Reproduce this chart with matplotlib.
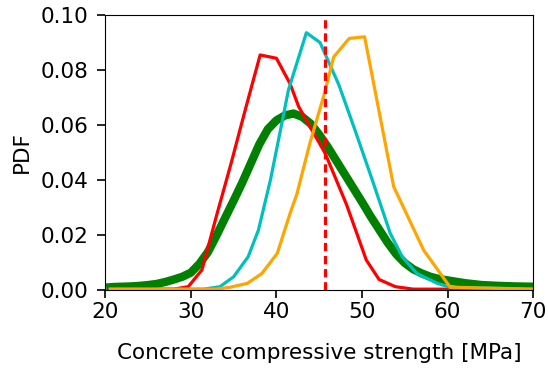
import matplotlib
matplotlib.use("Agg")
import matplotlib.pyplot as plt

# thick green reference pdf
green_x = [20.6, 21, 22, 23, 24, 25, 26, 27, 28, 29, 30, 31, 32, 33, 34, 35,
           36, 37, 38, 39, 40, 41, 42, 43, 44, 45, 46, 47, 48, 49, 50, 51,
           52, 53, 54, 55, 56, 57, 58, 59, 60, 62, 64, 66, 68, 70]
green_y = [0.0010, 0.0011, 0.0012, 0.0013, 0.0015, 0.0018, 0.0022, 0.0029,
           0.0038, 0.0048, 0.0063, 0.0095, 0.0138, 0.0198, 0.0262, 0.0325,
           0.0390, 0.0460, 0.0530, 0.0585, 0.0617, 0.0635, 0.0642, 0.0630,
           0.0605, 0.0565, 0.0520, 0.0470, 0.0420, 0.0370, 0.0320, 0.0268,
           0.0220, 0.0172, 0.0130, 0.0098, 0.0075, 0.0060, 0.0048, 0.0040,
           0.0035, 0.0025, 0.0018, 0.0015, 0.0013, 0.0012]

red_x = [20.6, 28.0, 29.7, 31.3, 33.0, 34.7, 36.4, 38.1, 40.0, 41.6, 42.6,
         45.7, 48.2, 50.5, 52.0, 53.9, 56.0, 70]
red_y = [0.0003, 0.0003, 0.0012, 0.0073, 0.0270, 0.0460, 0.0660, 0.0855, 0.0843,
         0.0750, 0.0667, 0.0497, 0.0310, 0.0109, 0.0038, 0.0012, 0.0003, 0.0003]

cyan_x = [20.6, 31.5, 33.4, 35.0, 36.7, 37.9, 39.3, 40.4, 41.4, 43.5, 45.1,
          47.3, 49.2, 51.2, 53.3, 54.7, 56.4, 58.8, 60.3, 70]
cyan_y = [0.0003, 0.0003, 0.0012, 0.0048, 0.0121, 0.0218, 0.0400, 0.0570, 0.0727,
          0.0936, 0.0900, 0.0746, 0.0580, 0.0400, 0.0206, 0.0121, 0.0060,
          0.0024, 0.0010, 0.0003]

orange_x = [20.6, 33.0, 34.6, 36.6, 38.3, 40.1, 41.6, 42.4, 43.9, 45.5, 46.7,
            48.5, 50.3, 53.7, 57.2, 60.3, 70]
orange_y = [0.0003, 0.0003, 0.0010, 0.0024, 0.0060, 0.0133, 0.0279, 0.0350,
            0.0533, 0.0703, 0.0848, 0.0915, 0.0921, 0.0376, 0.0145, 0.0010,
            0.0003]

design_strength = 45.7

fig, ax = plt.subplots(figsize=(5.48, 3.68), dpi=100)
fig.subplots_adjust(left=0.192, right=0.973, top=0.959, bottom=0.212)

ax.plot(green_x, green_y, color="g", lw=6)
ax.plot(red_x, red_y, color="r", lw=2.3)
ax.plot(cyan_x, cyan_y, color="c", lw=2.3)
ax.plot(orange_x, orange_y, color="orange", lw=2.3)
ax.axvline(design_strength, color="r", ls=(0, (2.6, 1.5)), lw=2.3)

ax.set_xlim(20, 70)
ax.set_ylim(0, 0.10)
ax.set_xticks([20, 30, 40, 50, 60, 70])
ax.set_yticks([0.00, 0.02, 0.04, 0.06, 0.08, 0.10])
ax.yaxis.set_major_formatter(matplotlib.ticker.FormatStrFormatter("%.2f"))
ax.tick_params(labelsize=15.5, length=6, width=1.2)
ax.tick_params(axis="x", pad=3)
ax.tick_params(axis="y", pad=6)
ax.set_xlabel("Concrete compressive strength [MPa]", fontsize=15.5, labelpad=15)
ax.set_ylabel("PDF", fontsize=15.5, labelpad=6)

fig.savefig("out.png", dpi=100)
